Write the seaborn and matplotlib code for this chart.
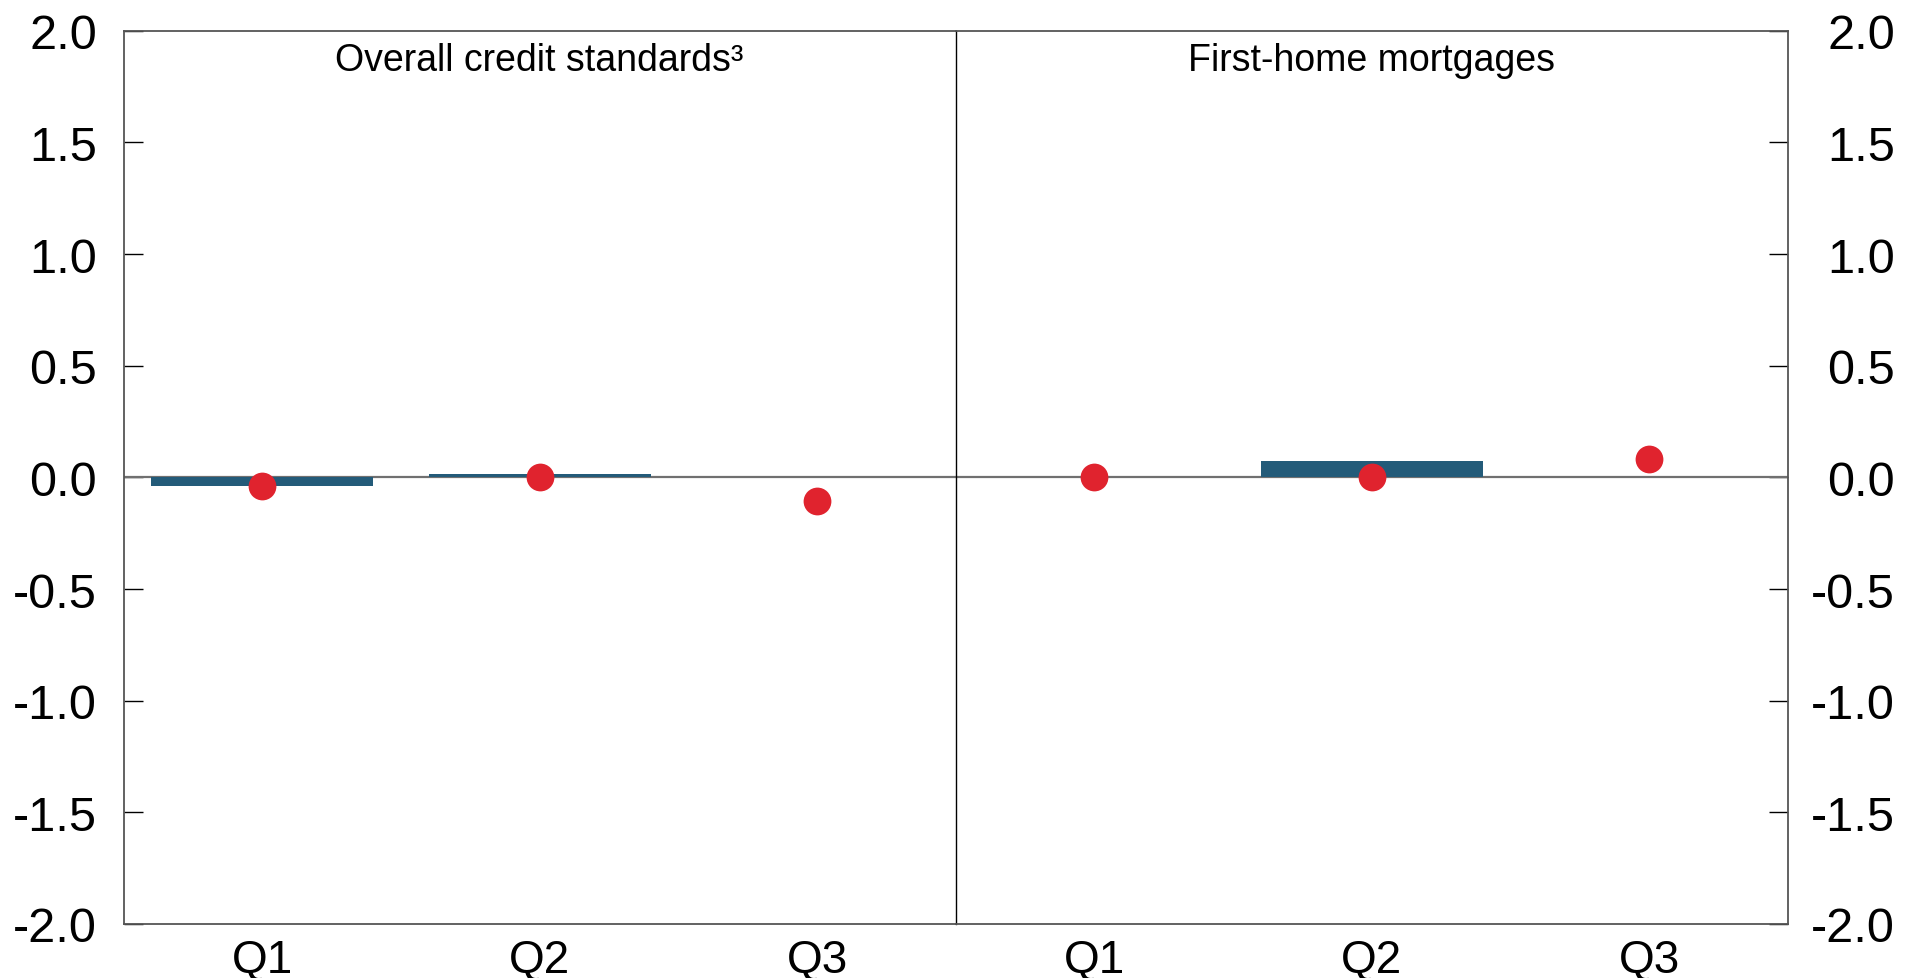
import numpy as np
import pandas as pd
import matplotlib
matplotlib.use("Agg")
import matplotlib.pyplot as plt
import seaborn as sns

quarters = ["Q1", "Q2", "Q3"]
panels = ["Overall credit standards³", "First-home mortgages"]
bar_overall = [-0.04, 0.016, np.nan]
dot_overall = [-0.04, 0.0, -0.105]
bar_firsthome = [np.nan, 0.072, np.nan]
dot_firsthome = [0.0, 0.0, 0.082]

bar_color = "#235b79"
dot_color = "#e0232e"

sns.set_style("white")
plt.rcParams["font.family"] = ["Liberation Sans", "DejaVu Sans"]
plt.rcParams["text.color"] = "black"
plt.rcParams["xtick.color"] = "black"
plt.rcParams["ytick.color"] = "black"

fig = plt.figure(figsize=(19.19, 9.79), dpi=100)
x0, x1, y0, y1 = 0.0644, 0.9317, 0.0552, 0.9675
w = (x1 - x0) / 2
ax_l = fig.add_axes([x0, y0, w, y1 - y0])
ax_r = fig.add_axes([x0 + w, y0, w, y1 - y0], sharey=ax_l)

data = [(ax_l, panels[0], bar_overall, dot_overall),
        (ax_r, panels[1], bar_firsthome, dot_firsthome)]

for ax, title, bars, dots in data:
    df = pd.DataFrame({"quarter": quarters, "bar": bars, "dot": dots})
    ax.axhline(0, color="#707070", lw=1.6, zorder=1)
    sns.barplot(data=df, x="quarter", y="bar", order=quarters, color=bar_color,
                saturation=1, width=0.8, linewidth=0, ax=ax, zorder=2)
    sns.stripplot(data=df, x="quarter", y="dot", order=quarters, color=dot_color,
                  jitter=False, size=20, linewidth=0, ax=ax, zorder=3)
    ax.set_xlim(-0.5, 2.5)
    ax.set_ylim(-2.0, 2.0)
    ax.set_xlabel("")
    ax.set_ylabel("")
    ax.text(0.5, 0.988, title, transform=ax.transAxes, ha="center", va="top",
            fontsize=27, color="black")
    ax.tick_params(axis="x", length=0, labelsize=33, pad=10)
    for s in ax.spines.values():
        s.set_color("#555555")
        s.set_linewidth(1.3)

ticks = np.arange(-2.0, 2.01, 0.5)
ax_l.set_yticks(ticks)
ax_l.set_yticklabels([f"{t:.1f}" for t in ticks])
ax_l.tick_params(axis="y", direction="in", length=14, width=1, left=True,
                 right=False, labelleft=True, labelright=False,
                 labelsize=35, pad=19)
ax_r.tick_params(axis="y", direction="in", length=14, width=1, left=False,
                 right=True, labelleft=False, labelright=True,
                 labelsize=35, pad=77)
for lab in ax_r.get_yticklabels():
    lab.set_horizontalalignment("right")
ax_r.spines["left"].set_color("#000000")
ax_r.spines["left"].set_linewidth(1.0)
ax_l.spines["right"].set_visible(False)

fig.savefig("out.png", dpi=100)
